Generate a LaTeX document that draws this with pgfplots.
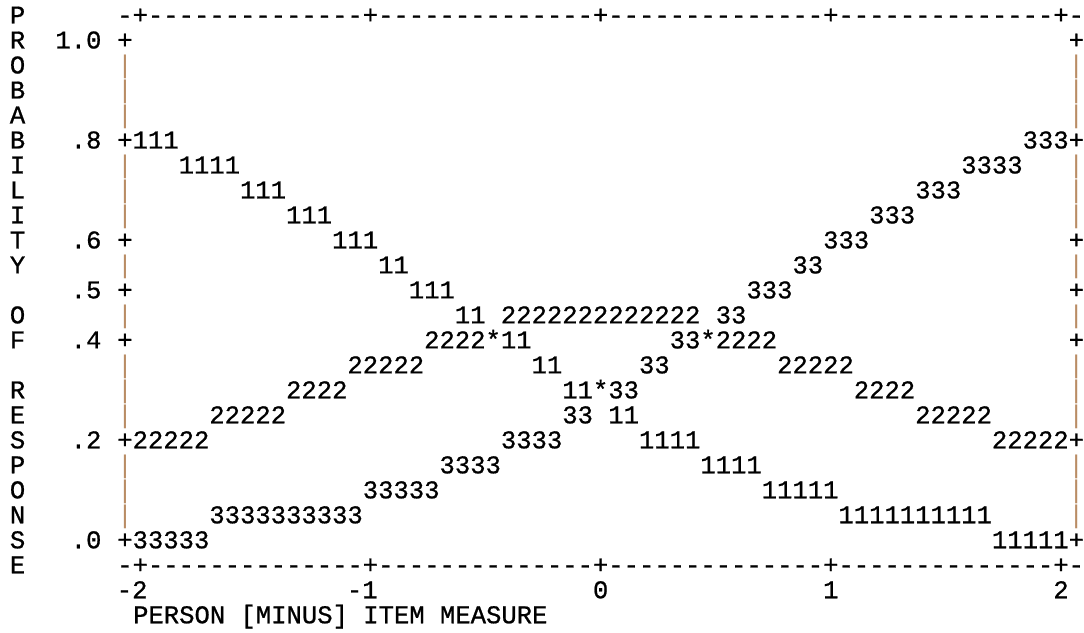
\documentclass[border=0pt]{standalone}
\usepackage{pgfplots}
\pgfplotsset{compat=1.18}
\usepackage{pgfplotstable}
\usepackage{fontspec}
\newfontfamily\mono{Liberation Mono}[FakeBold=0.8]
\newfontfamily\monothin{Liberation Mono}
\newcommand\monofont{\mono\fontsize{10.233pt}{10pt}\selectfont}
\newcommand\monothinfont{\monothin\fontsize{10.233pt}{10pt}\selectfont}
\definecolor{barcol}{RGB}{185,140,100}

% category 1 (cells shared with another curve are in the "ties" table)
\pgfplotstableread{
x y
-2 0.80
-1.9333 0.80
-1.8667 0.80
-1.8 0.75
-1.7333 0.75
-1.6667 0.75
-1.6 0.75
-1.5333 0.70
-1.4667 0.70
-1.4 0.70
-1.3333 0.65
-1.2667 0.65
-1.2 0.65
-1.1333 0.60
-1.0667 0.60
-1 0.60
-0.9333 0.55
-0.8667 0.55
-0.8 0.50
-0.7333 0.50
-0.6667 0.50
-0.6 0.45
-0.5333 0.45
-0.4 0.40
-0.3333 0.40
-0.2667 0.35
-0.2 0.35
-0.1333 0.30
-0.0667 0.30
0.0667 0.25
0.1333 0.25
0.2 0.20
0.2667 0.20
0.3333 0.20
0.4 0.20
0.4667 0.15
0.5333 0.15
0.6 0.15
0.6667 0.15
0.7333 0.10
0.8 0.10
0.8667 0.10
0.9333 0.10
1 0.10
1.0667 0.05
1.1333 0.05
1.2 0.05
1.2667 0.05
1.3333 0.05
1.4 0.05
1.4667 0.05
1.5333 0.05
1.6 0.05
1.6667 0.05
1.7333 0
1.8 0
1.8667 0
1.9333 0
2 0
}\catone

% category 2
\pgfplotstableread{
x y
-2 0.20
-1.9333 0.20
-1.8667 0.20
-1.8 0.20
-1.7333 0.20
-1.6667 0.25
-1.6 0.25
-1.5333 0.25
-1.4667 0.25
-1.4 0.25
-1.3333 0.30
-1.2667 0.30
-1.2 0.30
-1.1333 0.30
-1.0667 0.35
-1 0.35
-0.9333 0.35
-0.8667 0.35
-0.8 0.35
-0.7333 0.40
-0.6667 0.40
-0.6 0.40
-0.5333 0.40
-0.4 0.45
-0.3333 0.45
-0.2667 0.45
-0.2 0.45
-0.1333 0.45
-0.0667 0.45
0 0.45
0.0667 0.45
0.1333 0.45
0.2 0.45
0.2667 0.45
0.3333 0.45
0.4 0.45
0.5333 0.40
0.6 0.40
0.6667 0.40
0.7333 0.40
0.8 0.35
0.8667 0.35
0.9333 0.35
1 0.35
1.0667 0.35
1.1333 0.30
1.2 0.30
1.2667 0.30
1.3333 0.30
1.4 0.25
1.4667 0.25
1.5333 0.25
1.6 0.25
1.6667 0.25
1.7333 0.20
1.8 0.20
1.8667 0.20
1.9333 0.20
2 0.20
}\cattwo

% category 3
\pgfplotstableread{
x y
-2 0
-1.9333 0
-1.8667 0
-1.8 0
-1.7333 0
-1.6667 0.05
-1.6 0.05
-1.5333 0.05
-1.4667 0.05
-1.4 0.05
-1.3333 0.05
-1.2667 0.05
-1.2 0.05
-1.1333 0.05
-1.0667 0.05
-1 0.10
-0.9333 0.10
-0.8667 0.10
-0.8 0.10
-0.7333 0.10
-0.6667 0.15
-0.6 0.15
-0.5333 0.15
-0.4667 0.15
-0.4 0.20
-0.3333 0.20
-0.2667 0.20
-0.2 0.20
-0.1333 0.25
-0.0667 0.25
0.0667 0.30
0.1333 0.30
0.2 0.35
0.2667 0.35
0.3333 0.40
0.4 0.40
0.5333 0.45
0.6 0.45
0.6667 0.50
0.7333 0.50
0.8 0.50
0.8667 0.55
0.9333 0.55
1 0.60
1.0667 0.60
1.1333 0.60
1.2 0.65
1.2667 0.65
1.3333 0.65
1.4 0.70
1.4667 0.70
1.5333 0.70
1.6 0.75
1.6667 0.75
1.7333 0.75
1.8 0.75
1.8667 0.80
1.9333 0.80
2 0.80
}\catthree

% cells where two curves meet
\pgfplotstableread{
x y
-0.4667 0.40
0 0.30
0.4667 0.40
}\ties

% columns of the dashes in the top (t) and bottom (b) border rows
\pgfplotstableread{
x t b
-2.0667 1.05 -0.05
-1.9333 1.05 -0.05
-1.8667 1.05 -0.05
-1.8 1.05 -0.05
-1.7333 1.05 -0.05
-1.6667 1.05 -0.05
-1.6 1.05 -0.05
-1.5333 1.05 -0.05
-1.4667 1.05 -0.05
-1.4 1.05 -0.05
-1.3333 1.05 -0.05
-1.2667 1.05 -0.05
-1.2 1.05 -0.05
-1.1333 1.05 -0.05
-1.0667 1.05 -0.05
-0.9333 1.05 -0.05
-0.8667 1.05 -0.05
-0.8 1.05 -0.05
-0.7333 1.05 -0.05
-0.6667 1.05 -0.05
-0.6 1.05 -0.05
-0.5333 1.05 -0.05
-0.4667 1.05 -0.05
-0.4 1.05 -0.05
-0.3333 1.05 -0.05
-0.2667 1.05 -0.05
-0.2 1.05 -0.05
-0.1333 1.05 -0.05
-0.0667 1.05 -0.05
0.0667 1.05 -0.05
0.1333 1.05 -0.05
0.2 1.05 -0.05
0.2667 1.05 -0.05
0.3333 1.05 -0.05
0.4 1.05 -0.05
0.4667 1.05 -0.05
0.5333 1.05 -0.05
0.6 1.05 -0.05
0.6667 1.05 -0.05
0.7333 1.05 -0.05
0.8 1.05 -0.05
0.8667 1.05 -0.05
0.9333 1.05 -0.05
1.0667 1.05 -0.05
1.1333 1.05 -0.05
1.2 1.05 -0.05
1.2667 1.05 -0.05
1.3333 1.05 -0.05
1.4 1.05 -0.05
1.4667 1.05 -0.05
1.5333 1.05 -0.05
1.6 1.05 -0.05
1.6667 1.05 -0.05
1.7333 1.05 -0.05
1.8 1.05 -0.05
1.8667 1.05 -0.05
1.9333 1.05 -0.05
2.0667 1.05 -0.05
}\dashcols

\tikzset{
  lbl/.style={font=\monofont, inner sep=0pt, text height=6.8pt, text depth=0pt, text=black},
}
\pgfplotsset{
  ch/.style={only marks, black, mark=text, text mark={#1}, text mark as node=true,
    text mark style={font=\monofont, inner sep=0pt, text height=6.8pt, text depth=0pt, anchor=center}},
  chthin/.style={only marks, barcol, mark=text, text mark={#1}, text mark as node=true,
    text mark style={font=\monothinfont, inner sep=0pt, text height=6.8pt, text depth=0pt, anchor=center}},
}

\begin{document}
\begin{tikzpicture}
\begin{axis}[
  width=433.6pt, height=253.2pt, scale only axis,
  xmin=-2.60955, xmax=2.09837, ymin=-0.186, ymax=1.08,
  axis line style={draw=none}, ticks=none, clip=false,
]
% frame: top and bottom border rows
\addplot[ch={-}] table[x=x, y=t] {\dashcols};
\addplot[ch={-}] table[x=x, y=b] {\dashcols};
\addplot[ch={+}] coordinates {(-2,1.05) (-1,1.05) (0,1.05) (1,1.05) (2,1.05)
  (-2,-0.05) (-1,-0.05) (0,-0.05) (1,-0.05) (2,-0.05)};
% frame: left and right columns
\addplot[ch={+}] coordinates {(-2.0667,1.0) (-2.0667,0.8) (-2.0667,0.6) (-2.0667,0.5)
  (-2.0667,0.4) (-2.0667,0.2) (-2.0667,0)
  (2.0667,1.0) (2.0667,0.8) (2.0667,0.6) (2.0667,0.5) (2.0667,0.4) (2.0667,0.2) (2.0667,0)};
\addplot[chthin={|}] coordinates {(-2.0667,0.95) (-2.0667,0.9) (-2.0667,0.85) (-2.0667,0.75)
  (-2.0667,0.7) (-2.0667,0.65) (-2.0667,0.55) (-2.0667,0.45) (-2.0667,0.35) (-2.0667,0.3)
  (-2.0667,0.25) (-2.0667,0.15) (-2.0667,0.1) (-2.0667,0.05)
  (2.0667,0.95) (2.0667,0.9) (2.0667,0.85) (2.0667,0.75) (2.0667,0.7) (2.0667,0.65)
  (2.0667,0.55) (2.0667,0.45) (2.0667,0.35) (2.0667,0.3) (2.0667,0.25) (2.0667,0.15)
  (2.0667,0.1) (2.0667,0.05)};

% probability curves
\addplot[ch={1}] table[x=x, y=y] {\catone};
\addplot[ch={2}] table[x=x, y=y] {\cattwo};
\addplot[ch={3}] table[x=x, y=y] {\catthree};
\addplot[ch={*}] table[x=x, y=y] {\ties};

% y axis title, one letter per row
\addplot[draw=none, nodes near coords, point meta=explicit symbolic,
  nodes near coords align=center,
  every node near coord/.append style={lbl, anchor=center}] coordinates {
  (-2.5333,1.05)[P] (-2.5333,1.00)[R] (-2.5333,0.95)[O] (-2.5333,0.90)[B]
  (-2.5333,0.85)[A] (-2.5333,0.80)[B] (-2.5333,0.75)[I] (-2.5333,0.70)[L]
  (-2.5333,0.65)[I] (-2.5333,0.60)[T] (-2.5333,0.55)[Y] (-2.5333,0.45)[O]
  (-2.5333,0.40)[F] (-2.5333,0.30)[R] (-2.5333,0.25)[E] (-2.5333,0.20)[S]
  (-2.5333,0.15)[P] (-2.5333,0.10)[O] (-2.5333,0.05)[N] (-2.5333,0.00)[S]
  (-2.5333,-0.05)[E]};

% y tick labels
\node[lbl, anchor=east] at (axis cs:-2.16667,1.0) {1.0};
\node[lbl, anchor=east] at (axis cs:-2.16667,0.8) {.8};
\node[lbl, anchor=east] at (axis cs:-2.16667,0.6) {.6};
\node[lbl, anchor=east] at (axis cs:-2.16667,0.5) {.5};
\node[lbl, anchor=east] at (axis cs:-2.16667,0.4) {.4};
\node[lbl, anchor=east] at (axis cs:-2.16667,0.2) {.2};
\node[lbl, anchor=east] at (axis cs:-2.16667,0.0) {.0};
% x tick labels
\node[lbl, anchor=east] at (axis cs:-1.96667,-0.10) {-2};
\node[lbl, anchor=east] at (axis cs:-0.96667,-0.10) {-1};
\node[lbl, anchor=center] at (axis cs:0,-0.10) {0};
\node[lbl, anchor=center] at (axis cs:1,-0.10) {1};
\node[lbl, anchor=center] at (axis cs:2,-0.10) {2};
% x axis title
\node[lbl, anchor=west] at (axis cs:-2.03333,-0.15) {PERSON [MINUS] ITEM MEASURE};
\end{axis}
\end{tikzpicture}
\end{document}
